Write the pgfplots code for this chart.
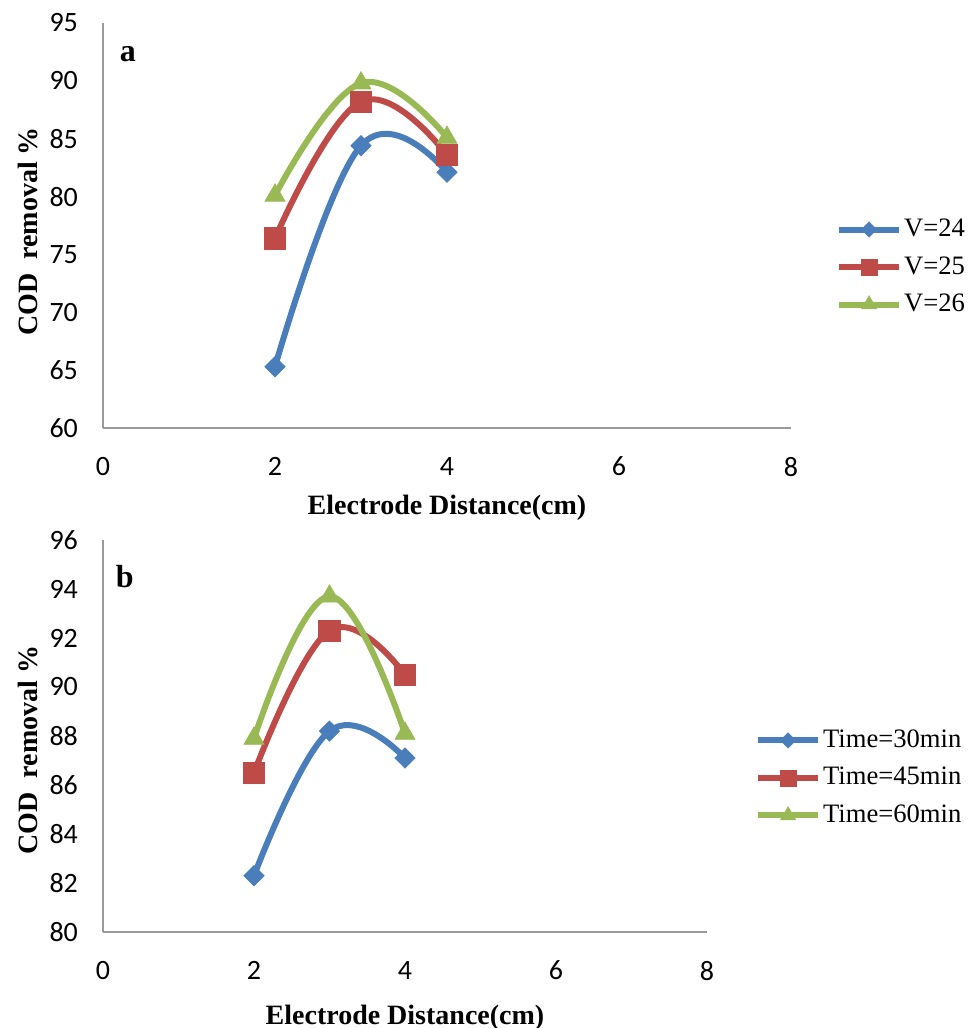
\documentclass[border=0pt]{standalone}
\usepackage{pgfplots}
\pgfplotsset{compat=1.18}
\usepackage{fontspec}
\setmainfont{Liberation Serif}
\newfontfamily\ticfont{Carlito}
\definecolor{cblue}{HTML}{4A7EBB}
\definecolor{cred}{HTML}{BE4B48}
\definecolor{cgreen}{HTML}{98B954}

\pgfplotsset{
  myaxis/.style={
    scale only axis,
    axis x line=bottom, axis y line=left,
    axis line style={-, draw=gray!80, line width=0.7pt},
    major tick length=0pt,
    xmin=0, xmax=8, xtick={0,2,4,6,8},
    tick label style={font=\ticfont\fontsize{14}{16}\selectfont},
    /pgf/number format/assume math mode=true,
    yticklabel style={xshift=-9pt},
    xticklabel style={yshift=-11pt},
    xlabel={Electrode Distance(cm)},
    ylabel={COD\ \ removal \%},
    label style={font=\fontsize{14}{16}\selectfont\bfseries},
    legend style={draw=none, fill=none, inner sep=0pt, font=\fontsize{13.3}{15}\selectfont, anchor=west, row sep=5.75pt, nodes={inner sep=1pt, text height=9pt, text depth=2pt}},
    legend cell align=left,
    legend image code/.code={\draw[mark repeat=2,mark phase=2, every mark/.append style={scale=0.75}] plot coordinates {(0pt,0pt)(15pt,0pt)(30pt,0pt)};},
  },
  sblue/.style={color=cblue, line width=3pt, smooth, tension=0.7, mark=square*, mark size=3.6pt, mark options={solid, rotate=45, line width=0.3pt, fill=cblue}},
  sred/.style={color=cred, line width=3pt, smooth, tension=0.7, mark=square*, mark size=5.4pt, mark options={solid, line width=0.3pt, fill=cred}},
  sgreen/.style={color=cgreen, line width=3pt, smooth, tension=0.7, mark=triangle*, mark size=5.8pt, mark options={solid, line width=0.3pt, fill=cgreen}},
}

\begin{document}
\begin{tikzpicture}
\path[use as bounding box] (-51.5pt,-300pt) rectangle (434pt,214pt);

\begin{axis}[myaxis,
  at={(0pt,0pt)}, anchor=origin,
  width=344pt, height=202.5pt,
  ymin=60, ymax=95, ytick={60,65,70,75,80,85,90,95},
  xlabel style={at={(axis description cs:0.5,0)}, anchor=center, yshift=-40pt},
  ylabel style={at={(axis description cs:0,0.5)}, anchor=center, yshift=37.5pt, xshift=-3pt},
  legend style={at={(1.065,0.3975)}},
]
\addplot[sblue] coordinates {(2,65.3)(3,84.4)(4,82.1)};
\addlegendentry{V=24}
\addplot[sred] coordinates {(2,76.4)(3,88.2)(4,83.6)};
\addlegendentry{V=25}
\addplot[sgreen] coordinates {(2,80.1)(3,89.8)(4,85.1)};
\addlegendentry{V=26}
\node[font=\fontsize{16}{18}\selectfont\bfseries] at (rel axis cs:0.036,0.922) {a};
\end{axis}

\begin{axis}[myaxis,
  at={(0pt,-252pt)}, anchor=origin,
  width=302pt, height=196pt,
  ymin=80, ymax=96, ytick={80,82,84,86,88,90,92,94,96},
  xlabel style={at={(axis description cs:0.5,0)}, anchor=center, yshift=-43pt},
  ylabel style={at={(axis description cs:0,0.5)}, anchor=center, yshift=37.5pt, xshift=-7pt},
  legend style={at={(1.079,0.393)}},
]
\addplot[sblue] coordinates {(2,82.3)(3,88.2)(4,87.1)};
\addlegendentry{Time=30min}
\addplot[sred] coordinates {(2,86.5)(3,92.3)(4,90.5)};
\addlegendentry{Time=45min}
\addplot[sgreen] coordinates {(2,87.9)(3,93.7)(4,88.1)};
\addlegendentry{Time=60min}
\node[font=\fontsize{16}{18}\selectfont\bfseries] at (rel axis cs:0.036,0.906) {b};
\end{axis}
\end{tikzpicture}
\end{document}
